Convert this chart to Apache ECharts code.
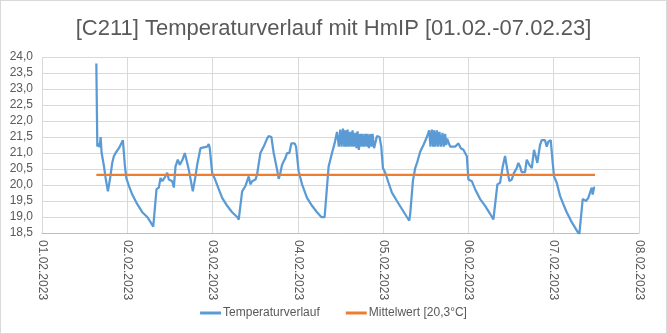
<!DOCTYPE html>
<html>
<head>
<meta charset="utf-8">
<script src="https://cdn.jsdelivr.net/npm/echarts@6/dist/echarts.min.js"></script>
<style>
html,body{margin:0;padding:0;background:#fff;}
#c{width:665px;height:332px;border:1px solid #d9d9d9;}
</style>
</head>
<body>
<div id="c"></div>
<script>
// hours since 01.02.2023 00:00
const hours = [15.29,15.57,15.93,16.22,16.5,16.78,17.42,17.9,18.55,19.11,19.78,20.23,20.71,21.19,21.64,22.76,23.04,23.33,23.72,24.45,25.4,26.81,28.22,29.62,30.55,31.31,31.53,32.23,32.88,33.36,33.84,34.48,35.24,35.69,36.65,37.1,37.57,38.22,38.78,39.54,40.19,40.58,41.31,42.44,43.19,43.67,44.6,44.88,46.48,46.93,47.21,47.89,48.53,49.74,50.7,52.1,53.51,54.91,55.36,56.32,57.25,58.17,58.65,59.13,60.06,60.53,61.46,62.39,63.34,63.79,64.55,65.2,66.15,66.6,67.08,67.56,68.49,68.96,69.61,70.17,71.1,71.49,72.22,73.18,74.58,75.99,77.39,78.6,79.53,80.66,81.61,82.34,83.02,
83.19,83.55,83.94,84.31,84.7,85.07,85.35,85.69,86.0,86.36,86.75,87.09,87.4,87.76,88.15,88.49,88.8,89.17,89.56,89.9,90.21,90.58,90.97,91.31,91.62,91.99,92.38,92.71,93.02,93.44,94.26,94.99,95.47,95.94,96.59,97.52,98.47,99.88,101.28,102.69,103.34,103.62,104.37,105.02,105.67,106.42,107.35,108.31,
108.95,109.32,109.71,110.08,110.36,110.73,111.12,111.49,111.85,112.27,112.69,113.05,113.45,113.73,114.0,114.85,116.26,117.19,117.86,118.59,119.55,120.0,120.95,121.88,123.29,124.69,126.1,127.02,127.5,128.15,128.9,129.66,130.31,130.78,131.51,132.18,132.83,133.59,134.04,134.52,135.0,135.93,136.41,137.14,137.82,138.46,138.94,139.39,140.15,140.63,141.56,142.03,142.48,143.16,143.72,144.09,144.85,145.78,146.71,147.66,149.07,150.47,151.2,151.6,152.16,152.53,153.09,153.74,154.22,154.69,154.97,155.34,155.62];
const temps = [23.8,21.2,21.3,21.18,21.5,21.0,20.6,20.22,19.8,20.17,20.7,20.9,21.0,21.0,21.15,21.4,21.35,20.6,20.22,19.97,19.7,19.4,19.15,19.0,18.84,18.7,18.7,19.87,19.92,20.22,20.12,20.22,20.38,20.17,20.12,19.92,20.58,20.79,20.63,20.79,21.0,21.0,20.48,19.8,20.27,20.63,21.15,21.2,21.2,21.28,21.15,20.38,20.22,19.87,19.6,19.35,19.15,19.0,18.92,19.8,19.97,20.27,20.02,20.12,20.17,20.33,21.0,21.2,21.45,21.53,21.5,21.0,20.48,20.19,20.38,20.63,20.84,21.0,21.0,21.3,21.3,21.2,20.43,20.02,19.6,19.35,19.15,19.0,19.0,20.58,21.0,21.3,21.66,
21.71,21.2,21.73,21.2,21.76,21.2,21.71,21.2,21.73,21.2,21.66,21.2,21.71,21.2,21.63,21.15,21.68,21.1,21.6,21.2,21.6,21.2,21.6,21.2,21.6,21.15,21.59,21.2,21.6,21.15,21.53,21.5,21.2,20.53,20.38,20.07,19.76,19.5,19.25,19.0,18.89,19.1,20.12,20.53,20.74,21.04,21.25,21.5,
21.71,21.2,21.73,21.2,21.71,21.2,21.71,21.2,21.66,21.2,21.63,21.2,21.6,21.25,21.45,21.2,21.2,21.3,21.15,21.1,20.9,20.17,20.12,19.87,19.56,19.35,19.1,18.92,18.89,20.02,20.07,20.58,20.91,20.58,20.12,20.17,20.38,20.53,20.69,20.58,20.4,20.4,20.79,20.63,20.53,21.1,20.9,20.69,21.25,21.4,21.4,21.2,21.35,21.4,20.69,20.27,20.07,19.66,19.4,19.15,18.84,18.58,18.45,18.45,19.56,19.6,19.5,19.6,19.76,19.92,19.7,19.92,19.92];
const meanValue = 20.32;
const meanRange = [15.29, 155.62];
const titleText = '[C211] Temperaturverlauf mit HmIP [01.02.-07.02.23]';
const seriesNames = ['Temperaturverlauf', 'Mittelwert [20,3°C]'];
const yMin = 18.5, yMax = 24.0, yStep = 0.5;
const xMin = 0, xMax = 168, xStep = 24;

const FONT = '"Liberation Sans Narrow", "Liberation Sans", sans-serif';
const chart = echarts.init(document.getElementById('c'));
chart.setOption({
  animation: false,
  title: {
    text: titleText, left: 'center', top: 12,
    textStyle: {fontFamily: FONT, fontSize: 22, fontWeight: 'normal', color: '#595959'}
  },
  legend: {
    bottom: 9, left: 'center', itemGap: 26, itemWidth: 21, itemHeight: 3,
    icon: 'rect',
    textStyle: {fontFamily: FONT, fontSize: 12, color: '#595959', padding: [0,0,0,-3]},
    data: seriesNames
  },
  grid: {left: 41, right: 27, top: 56, bottom: 100, containLabel: false},
  xAxis: {
    type: 'value', min: xMin, max: xMax, interval: xStep,
    axisLine: {show: true, lineStyle: {color: '#bfbfbf', width: 1}},
    axisTick: {show: false},
    splitLine: {show: true, lineStyle: {color: '#d9d9d9', width: 1}},
    axisLabel: {
      rotate: -90, margin: 7, fontFamily: FONT, fontSize: 12, color: '#595959',
      formatter: v => String(1 + Math.round(v / 24)).padStart(2, '0') + '.02.2023'
    }
  },
  yAxis: {
    type: 'value', min: yMin, max: yMax, interval: yStep,
    axisLine: {show: false}, axisTick: {show: false},
    splitLine: {show: true, lineStyle: {color: '#d9d9d9', width: 1}},
    axisLabel: {
      margin: 9, fontFamily: FONT, fontSize: 12, color: '#595959',
      formatter: v => v.toFixed(1).replace('.', ',')
    }
  },
  series: [
    {
      name: seriesNames[0], type: 'line', showSymbol: false, symbol: 'none', clip: true,
      lineStyle: {color: '#5b9bd5', width: 2.25}, itemStyle: {color: '#5b9bd5'},
      data: hours.map((h, i) => [h, temps[i]])
    },
    {
      name: seriesNames[1], type: 'line', showSymbol: false, symbol: 'none',
      lineStyle: {color: '#ed7d31', width: 2.25}, itemStyle: {color: '#ed7d31'},
      data: meanRange.map(h => [h, meanValue])
    }
  ]
});
</script>
</body>
</html>
